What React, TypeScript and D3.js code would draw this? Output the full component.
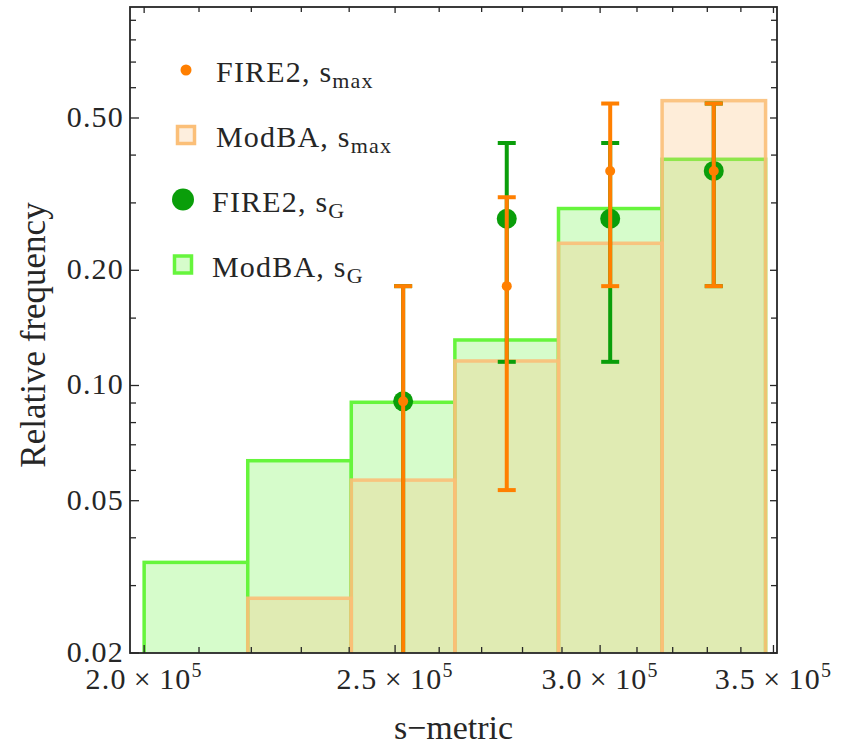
import * as d3 from "d3";

// histogram bins (s-metric), log-spaced
const binEdges = [200000, 219300, 240450, 263650, 289100, 317000, 347550];
// ModBA relative frequencies per bin
const modbaSG = [0.0345, 0.0636, 0.0904, 0.1315, 0.29, 0.39];
const modbaSmax = [0, 0.0278, 0.0566, 0.1159, 0.2353, 0.555];

// FIRE2 points (bin centres) with error bars
const fireX = [251800, 276100, 302700, 331900];
const fireSG = [0.0909, 0.2727, 0.2727, 0.3636];
const fireSGLow = [0, 0.1153, 0.1153, 0.1818];
const fireSGHigh = [0.1818, 0.4302, 0.4302, 0.5455];
const fireSmax = [0.0909, 0.1818, 0.3636, 0.3636];
const fireSmaxLow = [0, 0.0533, 0.1818, 0.1818];
const fireSmaxHigh = [0.1818, 0.3104, 0.5455, 0.5455];

// ticks
const yMajor = [0.02, 0.05, 0.1, 0.2, 0.5];
const yMajorLabels = ["0.02", "0.05", "0.10", "0.20", "0.50"];
const yMinor = [0.03, 0.04, 0.06, 0.07, 0.08, 0.09, 0.15, 0.3, 0.4, 0.6, 0.7, 0.8, 0.9];
const xMajor = [200000, 250000, 300000, 350000];
const xMajorLabels = ["2.0", "2.5", "3.0", "3.5"];
const xMinor = [210000, 220000, 230000, 240000, 260000, 270000, 280000, 290000, 310000, 320000, 330000, 340000];

const ORANGE = "#ff7f00";
const DKGREEN = "#0a9e0a";
const GFILL = "#d6fccb";
const GEDGE = "#66f53c";
const OFILL = "rgb(250,190,120)";
const OEDGE = "#fbbf78";
const INK = "#262626";

const left = 130, right = 777, top = 7, bottom = 653;

export default function App() {
  const x = d3.scaleLog().domain([197500, 351100]).range([left, right]);
  const y = d3.scaleLog().domain([0.02, 0.975]).range([bottom, top]);
  const yc = (v: number) => y(Math.max(v, 0.005));

  const errorBars = (xs: number[], lo: number[], hi: number[], color: string) =>
    xs.map((xv, i) => {
      const cx = x(xv);
      return (
        <g key={i} stroke={color} strokeWidth={4}>
          <line x1={cx} x2={cx} y1={yc(lo[i])} y2={y(hi[i])} />
          <line x1={cx - 9} x2={cx + 9} y1={y(hi[i])} y2={y(hi[i])} />
          {lo[i] > 0 && <line x1={cx - 9} x2={cx + 9} y1={y(lo[i])} y2={y(lo[i])} />}
        </g>
      );
    });

  const legend = [
    { label: "FIRE2, s", sub: "max", kind: "dot", color: ORANGE, r: 5.5, cx: 186, cy: 70, tx: 216 },
    { label: "ModBA, s", sub: "max", kind: "sq", fill: "#fdeedd", stroke: OEDGE, cx: 186, cy: 135, tx: 216 },
    { label: "FIRE2, s", sub: "G", kind: "dot", color: DKGREEN, r: 11, cx: 183, cy: 199.5, tx: 212 },
    { label: "ModBA, s", sub: "G", kind: "sq", fill: GFILL, stroke: GEDGE, cx: 183, cy: 264.5, tx: 212 },
  ];

  return (
    <div style={{ position: "absolute", left: 0, top: 0 }}>
      <svg width={845} height={748} fontFamily="'Liberation Serif', 'Times New Roman', serif">
        <rect width={845} height={748} fill="white" />
        <defs>
          <clipPath id="plotArea">
            <rect x={left} y={top} width={right - left} height={bottom - top} />
          </clipPath>
        </defs>

        <g clipPath="url(#plotArea)">
          {/* ModBA s_G bars */}
          {modbaSG.map((v, i) => (
            <rect
              key={"g" + i}
              x={x(binEdges[i])}
              width={x(binEdges[i + 1]) - x(binEdges[i])}
              y={y(v)}
              height={bottom - y(v) + 10}
              fill={GFILL}
              stroke={GEDGE}
              strokeWidth={3.5}
            />
          ))}
          {/* ModBA s_max bars */}
          {modbaSmax.map((v, i) =>
            v > 0 ? (
              <rect
                key={"o" + i}
                x={x(binEdges[i])}
                width={x(binEdges[i + 1]) - x(binEdges[i])}
                y={y(v)}
                height={bottom - y(v) + 10}
                fill={OFILL}
                fillOpacity={0.28}
                stroke={OEDGE}
                strokeOpacity={0.9}
                strokeWidth={3.5}
              />
            ) : null
          )}

          {/* FIRE2 s_G */}
          {errorBars(fireX, fireSGLow, fireSGHigh, DKGREEN)}
          {fireX.map((xv, i) => (
            <circle key={"gd" + i} cx={x(xv)} cy={y(fireSG[i])} r={10} fill={DKGREEN} />
          ))}
          {/* FIRE2 s_max */}
          {errorBars(fireX, fireSmaxLow, fireSmaxHigh, ORANGE)}
          {fireX.map((xv, i) => (
            <circle key={"od" + i} cx={x(xv)} cy={y(fireSmax[i])} r={5} fill={ORANGE} />
          ))}
        </g>

        {/* frame and ticks */}
        <g stroke={INK} strokeWidth={1.3}>
          {yMajor.map((v) => (
            <g key={"ym" + v}>
              <line x1={left} x2={left + 9} y1={y(v)} y2={y(v)} />
              <line x1={right} x2={right - 7} y1={y(v)} y2={y(v)} />
            </g>
          ))}
          {yMinor.map((v) => (
            <g key={"yn" + v}>
              <line x1={left} x2={left + 6} y1={y(v)} y2={y(v)} />
              <line x1={right} x2={right - 6} y1={y(v)} y2={y(v)} />
            </g>
          ))}
          {xMajor.map((v) => (
            <g key={"xm" + v}>
              <line x1={x(v)} x2={x(v)} y1={bottom} y2={bottom - 8} />
              <line x1={x(v)} x2={x(v)} y1={top} y2={top + 6} />
            </g>
          ))}
          {xMinor.map((v) => (
            <g key={"xn" + v}>
              <line x1={x(v)} x2={x(v)} y1={bottom} y2={bottom - 6} />
              <line x1={x(v)} x2={x(v)} y1={top} y2={top + 5} />
            </g>
          ))}
          <rect x={left} y={top} width={right - left} height={bottom - top} fill="none" strokeWidth={1.8} />
        </g>

        {/* tick labels */}
        <g fill={INK} fontSize={30} letterSpacing={1.2}>
          {yMajor.map((v, i) => (
            <text key={"yl" + v} x={left - 6} y={y(v) + 9} textAnchor="end">
              {yMajorLabels[i]}
            </text>
          ))}
          {xMajor.map((v, i) => (
            <text key={"xl" + v} x={x(v)} y={bottom + 36} textAnchor="middle">
              <tspan>{xMajorLabels[i] + "\u2009×\u200910"}</tspan>
              <tspan dy={-12} fontSize={20}>5</tspan>
            </text>
          ))}
        </g>

        {/* axis labels */}
        <text x={(left + right) / 2} y={739} textAnchor="middle" fontSize={34} fill={INK}>
          s−metric
        </text>
        <text
          transform={`translate(45, ${(top + bottom) / 2 + 5}) rotate(-90)`}
          textAnchor="middle"
          fontSize={35}
          fill={INK}
        >
          Relative frequency
        </text>

        {/* legend */}
        <g fill={INK}>
          {legend.map((d, i) => (
            <g key={"lg" + i}>
              {d.kind === "dot" ? (
                <circle cx={d.cx} cy={d.cy} r={d.r} fill={d.color} />
              ) : (
                <rect x={d.cx - 8.5} y={d.cy - 8.5} width={17} height={17} fill={d.fill} stroke={d.stroke} strokeWidth={3.5} />
              )}
              <text x={d.tx} y={d.cy + 12} fontSize={30} letterSpacing={1.2}>
                {d.label}
                <tspan dy={6} fontSize={22}>{d.sub}</tspan>
              </text>
            </g>
          ))}
        </g>
      </svg>
    </div>
  );
}
